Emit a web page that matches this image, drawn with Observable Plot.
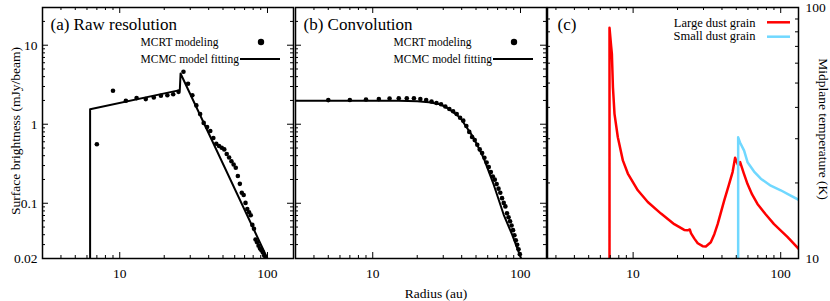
<!DOCTYPE html>
<html><head><meta charset="utf-8">
<script src="https://cdn.jsdelivr.net/npm/d3@7"></script>
<script src="https://cdn.jsdelivr.net/npm/@observablehq/plot@0.6"></script>
<style>
html,body{margin:0;padding:0;background:#fff;}
#wrap{position:relative;width:830px;height:301px;overflow:hidden;background:#fff;font-family:'Liberation Serif','DejaVu Serif',serif;}
#wrap svg{position:absolute;left:0;top:0;}
#wrap svg text{font-family:'Liberation Serif','DejaVu Serif',serif;}
</style></head><body><div id="wrap"></div>
<script>
// ---- data ----
const radiusA = [7,9,11,13,15,17,19,21,23,25,27,29,31,33,35,37,39,41,43,45,47,49,51,53,55,57,59,61,63,65,67,69,71,73,75,77,79,81,83,85,87,89,91,93,95,97];
const brightA = [0.557,2.65,1.98,2.14,2.08,2.18,2.29,2.33,2.40,2.57,4.61,3.25,2.33,1.73,1.35,1.04,0.924,0.822,0.670,0.567,0.53,0.505,0.48,0.42,0.38,0.34,0.31,0.281,0.221,0.176,0.136,0.127,0.101,0.0847,0.077,0.0706,0.0532,0.0476,0.0347,0.0321,0.029,0.0268,0.0254,0.0239,0.0218,0.0204];
const fitRadiusA = [6.3,6.3,25.5,25.8,105];
const fitBrightA = [0.01,1.55,2.70,4.39,0.0164];

const radiusB = [5,7,9,11,13,15,17,19,21,23,25,27,29,31,33,35,37,39,41,43,45,47,49,51,53,55,57,59,61,63,65,67,69,71,73,75,77,79,81,83,85,87,89,91,93,95,97,99];
const brightB = [2.02,2.03,2.06,2.08,2.11,2.13,2.13,2.13,2.09,2.02,1.94,1.86,1.79,1.68,1.56,1.46,1.35,1.21,1.11,0.95,0.80,0.69,0.63,0.55,0.48,0.432,0.377,0.328,0.287,0.248,0.218,0.199,0.175,0.153,0.136,0.116,0.101,0.0913,0.0749,0.0664,0.0593,0.0522,0.0457,0.0394,0.034,0.0298,0.0262,0.0227];
const fitRadiusB = [3,15,20,24,28.6,33,39.1,48.1,56.2,65.8,76.9,87.8,100,104];
const fitBrightB = [1.98,1.98,1.96,1.90,1.79,1.55,1.21,0.676,0.377,0.173,0.072,0.040,0.021,0.0175];

const largeRadius = [6.92,6.92,7.1,7.18,7.3,7.48,7.88,8.52,9.21,10.76,12.57,15.45,19.0,22.2,23.4,24.2,24.7,26,27.4,29.6,31.1,33.6,35.5,37.4,41.4,44.5,47.2,49.1,51.5,53.1,56,59.6,64,69.6,79,90.1,111,133];
const largeTemp   = [10,83,70,65.4,48.1,37.7,30.4,24.6,21.8,18.7,16.8,15.1,13.7,13.0,12.95,13.05,12.6,12.0,11.5,11.2,11.16,11.6,12.5,13.7,17.0,19.6,22.1,25.2,23.5,24.2,22,19.8,18,16.5,15,13.7,12.2,10.9];
const smallRadius = [51.5,51.5,53,56.5,59.6,66,73.3,85.6,100,116.8,133];
const smallTemp   = [10,30.4,29,26.9,24.2,22.2,20.8,19.5,18.7,17.8,17.1];

const xMajor = [10,100];
const xMinor = [3,4,5,6,7,8,9,20,30,40,50,60,70,80,90];
const sbMajor = [0.1,1,10];
const sbMinor = [0.03,0.04,0.05,0.06,0.07,0.08,0.09,0.2,0.3,0.4,0.5,0.6,0.7,0.8,0.9,2,3,4,5,6,7,8,9,20];
const sbLabels = [0.02,0.1,1,10];
const tMinor = [20,30,40,50,60,70,80,90];
const tLabels = [10,100];

const serif = "'Liberation Serif', 'DejaVu Serif', serif";
const TOP = 7, BOTTOM = 258, H = BOTTOM - TOP;

function frameTicks(W, xMaj, xMin, yMaj, yMin) {
  const m = [];
  const add = (vals, len) => {
    m.push(Plot.tickX(vals.x, {x: d => d, insetTop: H - len, stroke: "#000", strokeWidth: 1}));
    m.push(Plot.tickX(vals.x, {x: d => d, insetBottom: H - len, stroke: "#000", strokeWidth: 1}));
    m.push(Plot.tickY(vals.y, {y: d => d, insetRight: W - len, stroke: "#000", strokeWidth: 1}));
    m.push(Plot.tickY(vals.y, {y: d => d, insetLeft: W - len, stroke: "#000", strokeWidth: 1}));
  };
  add({x: xMaj, y: yMaj}, 6);
  add({x: xMin, y: yMin}, 3);
  return m;
}

function svgLine(x1, x2, y, color, w) {
  return () => d3.create("svg:line").attr("x1", x1).attr("x2", x2).attr("y1", y).attr("y2", y)
      .attr("stroke", color).attr("stroke-width", w).node();
}
function svgDot(cx, cy, r) {
  return () => d3.create("svg:circle").attr("cx", cx).attr("cy", cy).attr("r", r).attr("fill", "#000").node();
}

function base(L, R, xDomain, yDomain, marks) {
  return Plot.plot({
    width: 830, height: 301,
    marginLeft: L, marginRight: 830 - R, marginTop: TOP, marginBottom: 301 - BOTTOM,
    x: {type: "log", domain: xDomain},
    y: {type: "log", domain: yDomain, axis: null},
    style: {background: "transparent", fontFamily: serif, fontSize: "13.5px", color: "#000", overflow: "visible"},
    marks
  });
}
const txt = (s, o) => Plot.text([s], {text: d => d, fill: "#000", fontFamily: serif, lineAnchor: "middle", ...o});

const wrap = document.getElementById("wrap");

// ---- panel (a) ----
{
  const L = 42, R = 293, W = R - L;
  const dots = radiusA.map((r, i) => ({r, s: brightA[i]}));
  const fit = fitRadiusA.map((r, i) => ({r, s: fitBrightA[i]}));
  wrap.append(base(L, R, [3, 150], [0.02, 30], [
    Plot.line(fit, {x: "r", y: "s", stroke: "#000", strokeWidth: 2, clip: true}),
    Plot.dot(dots, {x: "r", y: "s", r: 2.3, fill: "#000", clip: true}),
    ...frameTicks(W, xMajor, xMinor, sbMajor, sbMinor),
    Plot.frame({stroke: "#000", strokeWidth: 1.5}),
    Plot.axisX({ticks: xMajor, tickSize: 0, tickPadding: 10, tickFormat: d => String(d), label: null}),
    Plot.axisY({ticks: sbLabels, tickSize: 0, tickPadding: 5, tickFormat: d => String(d), label: null}),
    txt("(a) Raw resolution", {frameAnchor: "top-left", dx: 8, dy: 17, textAnchor: "start", fontSize: 17}),
    txt("MCRT modeling", {frameAnchor: "top-left", dx: 98, dy: 35, textAnchor: "start", fontSize: 11.5}),
    txt("MCMC model fitting", {frameAnchor: "top-left", dx: 98, dy: 52, textAnchor: "start", fontSize: 11.5}),
    svgDot(261, 42, 3.2),
    svgLine(240, 280, 59, "#000", 2),
    txt("Surface brightness (mJy/beam)", {frameAnchor: "left", dx: -27, dy: -2, rotate: -90, textAnchor: "middle", fontSize: 13.5})
  ]));
}

// ---- panel (b) ----
{
  const L = 295, R = 546, W = R - L;
  const dots = radiusB.map((r, i) => ({r, s: brightB[i]}));
  const fit = fitRadiusB.map((r, i) => ({r, s: fitBrightB[i]}));
  wrap.append(base(L, R, [3, 150], [0.02, 30], [
    Plot.line(fit, {x: "r", y: "s", stroke: "#000", strokeWidth: 2, clip: true}),
    Plot.dot(dots, {x: "r", y: "s", r: 2.3, fill: "#000", clip: true}),
    ...frameTicks(W, xMajor, xMinor, sbMajor, sbMinor),
    Plot.frame({stroke: "#000", strokeWidth: 1.5}),
    Plot.axisX({ticks: xMajor, tickSize: 0, tickPadding: 10, tickFormat: d => String(d), label: null}),
    txt("(b) Convolution", {frameAnchor: "top-left", dx: 8, dy: 17, textAnchor: "start", fontSize: 17}),
    txt("MCRT modeling", {frameAnchor: "top-left", dx: 98, dy: 35, textAnchor: "start", fontSize: 11.5}),
    txt("MCMC model fitting", {frameAnchor: "top-left", dx: 98, dy: 52, textAnchor: "start", fontSize: 11.5}),
    svgDot(514, 42, 3.2),
    svgLine(493, 533, 59, "#000", 2),
    txt("Radius (au)", {frameAnchor: "bottom", dx: 15, dy: 35, textAnchor: "middle", fontSize: 13.5})
  ]));
}

// ---- panel (c) ----
{
  const L = 547, R = 798, W = R - L;
  const large = largeRadius.map((r, i) => ({r, t: largeTemp[i]}));
  const small = smallRadius.map((r, i) => ({r, t: smallTemp[i]}));
  wrap.append(base(L, R, [2.63, 132], [10, 100], [
    Plot.line(large, {x: "r", y: "t", stroke: "#ff0000", strokeWidth: 2.5, clip: true}),
    Plot.line(small, {x: "r", y: "t", stroke: "#70d8ff", strokeWidth: 2.5, clip: true}),
    ...frameTicks(W, xMajor, xMinor, [], tMinor),
    Plot.frame({stroke: "#000", strokeWidth: 1.5}),
    Plot.axisX({ticks: xMajor, tickSize: 0, tickPadding: 10, tickFormat: d => String(d), label: null}),
    Plot.axisY({anchor: "right", ticks: tLabels, tickSize: 0, tickPadding: 7, tickFormat: d => String(d), label: null}),
    txt("(c)", {frameAnchor: "top-left", dx: 10, dy: 17, textAnchor: "start", fontSize: 17}),
    txt("Large dust grain", {frameAnchor: "top-left", dx: 208, dy: 15.3, textAnchor: "end", fontSize: 12.5}),
    txt("Small dust grain", {frameAnchor: "top-left", dx: 208, dy: 28.8, textAnchor: "end", fontSize: 12.5}),
    svgLine(767, 790, 22.3, "#ff0000", 2.5),
    svgLine(767, 790, 36.7, "#70d8ff", 2.5),
    txt("Midplane temperature (K)", {frameAnchor: "right", dx: 25, dy: -4, rotate: 90, textAnchor: "middle", fontSize: 13.5})
  ]));
}
</script></body></html>
